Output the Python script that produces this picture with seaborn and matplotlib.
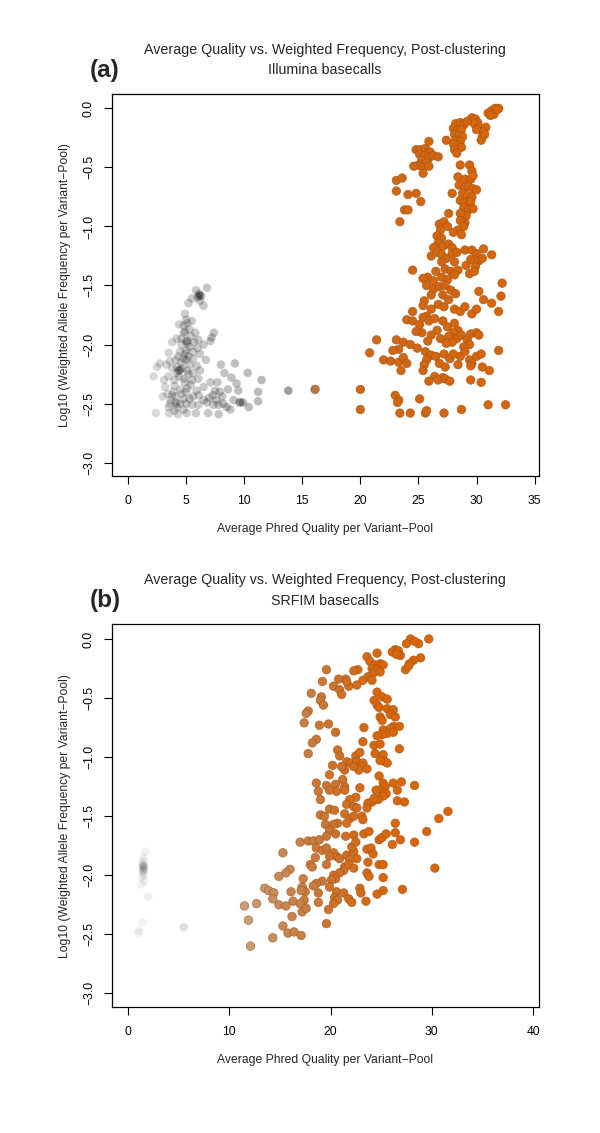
import numpy as np
import pandas as pd
import matplotlib
matplotlib.use("Agg")
import matplotlib.pyplot as plt
from matplotlib.colors import LinearSegmentedColormap
import seaborn as sns

sns.set_style("ticks")
plt.rcParams['font.family'] = ['Liberation Sans', 'DejaVu Sans']

## data

# (a) Illumina basecalls: average quality / log10 weighted frequency
illumina_qual = [
    31.0, 31.3, 31.6, 31.9, 31.5, 31.2, 31.8,
    29.6, 29.9, 30.1, 29.8, 30.2, 30.0,
    30.8, 30.6, 30.5, 30.4, 30.7,
    28.2, 28.6, 28.9, 28.0, 28.3, 28.7, 28.1, 28.5, 28.8, 28.2, 28.6, 28.4, 28.0, 28.7, 29.2,
    27.4, 25.9, 28.1, 28.3,
    24.8, 25.2, 25.6, 26.0, 25.1, 25.5, 25.9, 26.3, 26.7, 25.3, 25.7, 25.0, 24.6, 25.4, 25.9, 25.4,
    23.1, 23.6, 23.1, 24.1, 24.8, 25.2, 23.8, 24.1, 23.4,
    28.6, 29.4, 29.6, 28.4, 29.0, 29.5, 29.7, 28.5, 29.0, 29.3, 29.7, 30.0, 28.8, 29.2, 29.6,
    27.9, 28.6, 29.0, 29.5, 28.9, 29.3, 29.7, 29.1, 28.6, 29.0,
    27.6, 26.8, 27.2, 27.5, 28.6, 28.9, 28.4, 28.0, 28.7, 26.9, 26.6, 27.0, 26.7, 27.1, 27.6, 27.9,
    26.3, 26.1, 26.6, 27.0, 27.4, 27.9, 28.3, 28.1, 29.0, 29.6, 30.0, 30.6, 31.3, 29.5, 30.2, 30.5,
    29.1, 29.9, 27.0, 26.5, 27.3, 27.8, 28.4, 29.4, 29.8, 24.5, 25.8, 26.3, 27.0, 27.5, 28.1,
    25.4, 25.7, 26.3, 26.8, 27.3, 27.8, 27.1, 27.6, 28.2, 26.1, 25.5, 25.4, 26.1, 26.7,
    27.2, 28.1, 28.6, 29.0, 30.2, 32.2, 32.1, 30.6, 31.3, 31.9, 29.6, 30.0, 24.5, 25.7,
    24.0, 24.5, 25.1, 25.4, 25.9, 26.4, 27.1, 27.5, 28.1, 28.4, 28.0, 27.6, 28.3, 28.7, 27.9, 26.6, 26.1,
    25.3, 24.8, 25.8, 26.9, 27.4, 29.2, 29.5, 30.0, 30.2, 29.4, 28.9, 21.4, 23.1, 23.7, 24.3, 24.9, 23.3,
    20.8, 22.8, 25.6, 26.1, 25.7, 26.5, 27.2, 27.7, 28.0, 28.6, 29.0, 29.4, 29.6, 30.0, 30.4, 31.9, 22.0, 22.6, 23.3,
    23.7, 24.0, 25.5, 26.8, 27.3, 28.4, 29.5, 30.5, 31.1, 23.5, 25.4, 26.4, 27.1, 25.9, 26.7, 27.3, 27.7, 29.5, 30.4,
    23.0, 23.3, 23.2, 25.1, 20.0, 20.0, 23.4, 24.3, 25.6, 25.7, 27.2, 28.7, 31.0, 32.5, 16.1, 13.8,
    6.8, 5.85, 6.1, 6.3, 6.0, 5.5, 5.2, 6.2, 6.5,
    4.9, 5.0, 5.1, 4.4, 5.5, 4.8, 5.3, 4.9, 5.8, 7.4, 7.2, 7.1, 4.2, 3.8,
    5.1, 6.05, 6.5, 4.6, 5.3, 5.0, 4.5, 3.5, 5.6, 6.2, 6.7, 5.2, 4.8, 4.1,
    2.75, 2.5, 3.3, 3.8, 4.4, 4.2, 5.1, 5.6, 6.2, 2.2, 3.5, 4.8,
    5.5, 6.05, 8.0, 9.2, 8.3, 10.3, 11.5, 7.1, 7.7, 8.9, 9.35,
    3.2, 4.0, 4.5, 5.1, 5.9, 7.5, 7.9, 8.6, 9.5, 11.2, 3.0,
    3.8, 4.8, 5.6, 6.5, 7.3, 8.1, 9.1, 9.6, 9.9, 11.2,
    4.1, 5.0, 5.5, 6.05, 7.35, 7.8, 8.5, 3.5, 4.2, 10.4,
    2.4, 3.55, 4.3, 5.05, 5.85, 6.9, 7.8, 8.8, 6.1, 6.8,
    4.3, 4.6, 5.0, 5.3, 4.7, 5.2, 4.4, 4.9, 5.4, 4.0, 3.9, 4.6, 5.0, 4.1, 3.7, 4.5, 4.0, 3.6,
    5.3, 4.8, 4.2, 3.6, 4.9, 5.6, 5.9, 4.6, 5.4, 4.8, 5.7, 6.0, 6.5, 7.0, 7.6, 8.2, 3.4, 3.1,
    4.4, 4.5, 4.2, 5.0, 5.1, 6.2, 6.1, 9.7,
]
illumina_freq = [
    -0.04, -0.02, 0.0, 0.0, -0.05, -0.06, -0.01,
    -0.08, -0.09, -0.12, -0.13, -0.16, -0.18,
    -0.16, -0.20, -0.24, -0.27, -0.22,
    -0.13, -0.12, -0.14, -0.17, -0.19, -0.18, -0.22, -0.23, -0.24, -0.27, -0.28, -0.31, -0.30, -0.33, -0.11,
    -0.27, -0.28, -0.35, -0.38,
    -0.35, -0.35, -0.34, -0.37, -0.39, -0.40, -0.42, -0.40, -0.41, -0.44, -0.46, -0.48, -0.49, -0.50, -0.49, -0.55,
    -0.61, -0.59, -0.70, -0.73, -0.72, -0.79, -0.86, -0.86, -0.96,
    -0.48, -0.48, -0.53, -0.58, -0.60, -0.60, -0.57, -0.65, -0.67, -0.66, -0.68, -0.69, -0.72, -0.74, -0.75,
    -0.72, -0.78, -0.80, -0.79, -0.84, -0.86, -0.85, -0.91, -0.89, -0.97,
    -0.89, -0.98, -0.96, -1.00, -0.95, -1.00, -1.03, -1.05, -1.07, -1.03, -1.08, -1.10, -1.14, -1.17, -1.15, -1.18,
    -1.18, -1.25, -1.22, -1.24, -1.27, -1.23, -1.22, -1.30, -1.20, -1.20, -1.23, -1.19, -1.24, -1.28, -1.29, -1.27,
    -1.33, -1.34, -1.30, -1.38, -1.36, -1.38, -1.37, -1.40, -1.38, -1.37, -1.43, -1.46, -1.43, -1.45, -1.41,
    -1.44, -1.50, -1.53, -1.51, -1.50, -1.54, -1.58, -1.62, -1.57, -1.58, -1.63, -1.67, -1.70, -1.66,
    -1.68, -1.70, -1.72, -1.68, -1.55, -1.48, -1.59, -1.62, -1.65, -1.72, -1.74, -1.70, -1.72, -1.76,
    -1.79, -1.80, -1.83, -1.77, -1.80, -1.78, -1.80, -1.85, -1.82, -1.88, -1.90, -1.93, -1.95, -1.92, -1.98, -1.88, -1.92,
    -1.90, -1.89, -1.97, -1.95, -1.99, -1.96, -1.91, -1.90, -1.92, -2.00, -2.02, -1.96, -1.96, -1.98, -2.00, -2.03, -2.04,
    -2.07, -2.05, -2.06, -2.09, -2.13, -2.10, -2.08, -2.12, -2.08, -2.10, -2.06, -2.13, -2.16, -2.10, -2.08, -2.05, -2.13, -2.14, -2.15,
    -2.11, -2.16, -2.17, -2.16, -2.19, -2.17, -2.18, -2.19, -2.22, -2.22, -2.22, -2.27, -2.28, -2.31, -2.30, -2.29, -2.31, -2.30, -2.32,
    -2.43, -2.47, -2.49, -2.46, -2.38, -2.55, -2.58, -2.58, -2.58, -2.56, -2.58, -2.55, -2.51, -2.51, -2.38, -2.39,
    -1.52, -1.54, -1.57, -1.59, -1.60, -1.61, -1.65, -1.63, -1.67,
    -1.74, -1.79, -1.82, -1.83, -1.80, -1.84, -1.87, -1.89, -1.90, -1.90, -1.94, -1.97, -1.95, -1.98,
    -1.97, -1.96, -2.00, -2.00, -2.02, -2.05, -2.06, -2.07, -2.06, -2.08, -2.13, -2.10, -2.12, -2.13,
    -2.16, -2.19, -2.17, -2.20, -2.22, -2.24, -2.22, -2.24, -2.22, -2.27, -2.27, -2.29,
    -2.30, -2.29, -2.17, -2.16, -2.24, -2.24, -2.30, -2.32, -2.32, -2.28, -2.33,
    -2.36, -2.35, -2.38, -2.37, -2.39, -2.39, -2.40, -2.38, -2.39, -2.40, -2.44,
    -2.43, -2.46, -2.44, -2.47, -2.43, -2.44, -2.47, -2.49, -2.49, -2.48,
    -2.49, -2.50, -2.51, -2.51, -2.51, -2.51, -2.53, -2.53, -2.53, -2.53,
    -2.58, -2.58, -2.59, -2.58, -2.58, -2.58, -2.59, -2.55, -2.43, -2.49,
    -2.10, -2.15, -2.13, -2.17, -2.20, -2.25, -2.27, -2.32, -2.34, -2.30, -2.40, -2.42, -2.40, -2.44, -2.47, -2.50, -2.56, -2.50,
    -2.46, -2.55, -2.19, -2.14, -2.08, -2.12, -2.18, -1.95, -1.93, -1.90, -1.98, -2.03, -2.36, -2.45, -2.47, -2.50, -2.42, -2.30,
    -2.22, -2.21, -2.50, -1.97, -1.99, -1.58, -1.59, -2.49,
]

# (b) SRFIM basecalls
srfim_qual = [
    1.7, 1.5, 1.6, 1.4, 1.5, 1.6, 1.5, 1.6, 1.4, 1.5, 1.55, 1.4, 1.6, 1.3, 2.0, 1.4, 1.1, 1.0, 5.5, 1.5,
    1.6, 1.5, 1.45, 1.55,
    29.7, 28.7, 27.9, 27.5, 28.3, 28.9, 28.2, 27.8, 27.4, 27.7, 26.4, 26.7, 26.1, 26.9, 26.5,
    23.6, 24.6, 23.9, 24.4, 24.9, 25.2, 24.1, 24.6, 24.2, 23.7, 24.1, 23.2, 24.9, 22.7, 22.3, 21.5,
    20.8, 20.3, 20.9, 21.8, 21.6, 21.1, 22.6,
    19.6, 19.2, 18.1, 19.1, 19.0, 19.3, 17.8, 17.6, 17.4, 18.9, 19.8, 20.5, 18.6, 18.2, 17.8,
    24.6, 25.1, 25.6, 24.3, 24.6, 24.8, 25.6, 26.2, 25.9, 24.9, 25.1, 26.4, 26.2, 26.8, 25.9,
    25.2, 25.6, 25.1, 24.6, 26.2, 23.3, 23.2, 24.3, 24.9, 26.8, 24.4, 25.2, 25.4, 25.6, 24.9,
    20.7, 20.9, 21.6, 22.0, 22.5, 22.9, 22.6, 23.2, 23.1, 22.8, 23.6, 22.3, 21.4, 21.1, 20.2, 19.9, 24.8, 21.2,
    18.6, 19.6, 20.5, 21.4, 20.6, 19.9, 18.8, 21.4, 22.9, 25.2, 25.4, 24.8, 24.5, 26.2, 26.6, 27.0, 28.3,
    25.5, 25.2, 24.7, 24.1, 23.7, 24.3, 22.5, 21.9, 21.6, 22.3, 22.6, 23.6, 26.6, 27.3, 19.0, 31.6, 30.7,
    19.9, 19.0, 19.4, 20.4, 21.4, 21.9, 22.3, 23.1, 23.2, 21.6, 20.7, 20.3, 19.5, 19.9, 19.6, 20.5, 21.5,
    22.3, 23.3, 23.8, 24.8, 25.1, 25.5, 26.4, 26.4, 26.9, 26.1, 28.3, 29.5, 17.0, 17.8, 18.3, 18.9,
    18.6, 19.2, 19.6, 20.3, 20.6, 19.9, 20.9, 21.6, 22.3, 22.6, 21.9, 23.6, 24.0, 24.2, 22.1, 22.5, 18.5, 19.6, 18.0, 18.2,
    21.4, 21.8, 22.3, 21.3, 20.9, 20.3, 20.5, 20.1, 23.7, 23.6, 24.8, 25.2, 25.2, 23.8, 30.3, 15.3, 16.0, 15.6, 14.9, 17.3,
    19.2, 18.6, 18.3, 17.2, 17.5, 17.1, 16.1, 18.8, 19.9, 20.6, 21.3, 21.8, 22.1, 20.4, 20.7, 20.3, 19.8, 22.9, 23.0, 23.5,
    24.6, 25.2, 27.1, 13.5, 13.9, 14.4, 14.3, 14.9, 16.3, 15.6, 17.4, 17.0, 17.2, 17.6, 18.8, 12.7, 11.5, 11.9, 16.2, 15.3,
    15.8, 16.4, 17.1, 14.3, 12.1, 19.6,
]
srfim_freq = [
    -1.80, -1.85, -1.88, -1.90, -1.92, -1.93, -1.94, -1.95, -1.96, -1.98, -2.00, -2.02, -2.05, -2.08, -2.18, -2.40, -2.47, -2.49, -2.44, -1.91,
    -1.92, -1.95, -1.93, -1.97,
    0.0, -0.04, 0.0, -0.04, -0.02, -0.16, -0.18, -0.21, -0.26, -0.23, -0.09, -0.10, -0.11, -0.14, -0.13,
    -0.15, -0.12, -0.19, -0.22, -0.21, -0.22, -0.25, -0.26, -0.29, -0.32, -0.35, -0.35, -0.28, -0.26, -0.27, -0.34,
    -0.34, -0.40, -0.43, -0.40, -0.36, -0.47, -0.39,
    -0.26, -0.36, -0.46, -0.49, -0.52, -0.56, -0.61, -0.63, -0.71, -0.73, -0.72, -0.79, -0.85, -0.88, -0.97,
    -0.45, -0.49, -0.51, -0.52, -0.56, -0.58, -0.59, -0.60, -0.64, -0.66, -0.69, -0.66, -0.74, -0.74, -0.76,
    -0.77, -0.80, -0.81, -0.82, -0.79, -0.75, -0.87, -0.90, -0.89, -0.93, -0.97, -0.98, -1.04, -1.05, -1.03,
    -0.94, -0.99, -1.04, -1.05, -0.99, -0.96, -1.04, -1.05, -1.08, -1.11, -1.10, -1.08, -1.11, -1.08, -1.07, -1.15, -1.16, -1.19,
    -1.22, -1.24, -1.23, -1.25, -1.29, -1.28, -1.29, -1.28, -1.26, -1.22, -1.25, -1.28, -1.28, -1.22, -1.28, -1.21, -1.24,
    -1.31, -1.33, -1.36, -1.38, -1.39, -1.35, -1.34, -1.36, -1.40, -1.42, -1.43, -1.43, -1.37, -1.38, -1.36, -1.46, -1.52,
    -1.44, -1.49, -1.50, -1.45, -1.48, -1.52, -1.50, -1.50, -1.53, -1.56, -1.56, -1.57, -1.57, -1.62, -1.67, -1.65, -1.67,
    -1.66, -1.65, -1.63, -1.70, -1.68, -1.65, -1.56, -1.64, -1.70, -1.74, -1.72, -1.63, -1.72, -1.71, -1.71, -1.70,
    -1.77, -1.79, -1.77, -1.81, -1.84, -1.84, -1.86, -1.83, -1.80, -1.86, -1.87, -1.78, -1.77, -1.82, -1.76, -1.72, -1.85, -1.91, -1.91, -1.93,
    -1.93, -1.91, -1.94, -1.96, -1.98, -2.00, -2.03, -2.04, -1.89, -1.98, -1.91, -1.91, -2.02, -2.01, -1.94, -1.81, -1.95, -1.98, -2.01, -2.03,
    -2.05, -2.07, -2.09, -2.10, -2.14, -2.13, -2.14, -2.15, -2.10, -2.14, -2.15, -2.20, -2.23, -2.19, -2.21, -2.24, -2.29, -2.11, -2.15, -2.22,
    -2.16, -2.13, -2.12, -2.11, -2.13, -2.15, -2.20, -2.25, -2.22, -2.26, -2.21, -2.24, -2.31, -2.28, -2.23, -2.24, -2.26, -2.38, -2.35, -2.43,
    -2.49, -2.48, -2.51, -2.53, -2.60, -2.41,
]

x_ticks_a = [0, 5, 10, 15, 20, 25, 30, 35]
x_ticks_b = [0, 10, 20, 30, 40]
y_ticks = [0.0, -0.5, -1.0, -1.5, -2.0, -2.5, -3.0]

title_line = "Average Quality vs. Weighted Frequency, Post-clustering"
subtitles = ["Illumina basecalls", "SRFIM basecalls"]
panel_tags = ["(a)", "(b)"]
x_label = "Average Phred Quality per Variant\u2212Pool"
y_label = "Log10 (Weighted Allele Frequency per Variant\u2212Pool)"

# colour ramp by quality: faint grey -> tan -> orange
ramp_a = [(0, (0, 0, 0, 0.10)), (5, (0, 0, 0, 0.20)), (11.5, (0, 0, 0, 0.27)),
          (13.8, (0, 0, 0, 0.38)), (16.1, (0.72, 0.46, 0.30, 1.0)),
          (20, (0.80, 0.41, 0.10, 1.0)), (35, (0.86, 0.39, 0.02, 1.0))]
ramp_b = [(0, (0, 0, 0, 0.03)), (5.5, (0, 0, 0, 0.13)), (11.5, (0.79, 0.63, 0.49, 1.0)),
          (15, (0.77, 0.54, 0.36, 1.0)), (20, (0.80, 0.45, 0.18, 1.0)),
          (25, (0.85, 0.40, 0.04, 1.0)), (40, (0.86, 0.39, 0.02, 1.0))]


def make_cmap(nodes, qmax):
    return LinearSegmentedColormap.from_list("qual", [(q / qmax, c) for q, c in nodes])


def draw_panel(ax, qual, freq, ramp, qmax, split, xlim, xticks):
    df = pd.DataFrame({'qual': qual, 'freq': freq})
    cmap = make_cmap(ramp, qmax)
    lo = df[df.qual < split]
    hi = df[df.qual >= split]
    sns.scatterplot(data=lo, x='qual', y='freq', hue='qual', palette=cmap,
                    hue_norm=(0, qmax), s=38, edgecolor='none', legend=False, ax=ax)
    sns.scatterplot(data=hi, x='qual', y='freq', hue='qual', palette=cmap,
                    hue_norm=(0, qmax), s=38, edgecolor=(0.62, 0.32, 0.08, 0.75),
                    linewidth=0.5, legend=False, ax=ax)
    ax.set_xlim(*xlim)
    ax.set_ylim(-3.113, 0.124)
    ax.set_xticks(xticks)
    ax.set_xticklabels([str(t) for t in xticks])
    ax.set_yticks(y_ticks)
    ax.set_yticklabels([f"{v:.1f}".replace("-", "\u2212") for v in y_ticks],
                       rotation=90, va='center')
    ax.set_xlabel('')
    ax.set_ylabel('')
    for sp in ax.spines.values():
        sp.set_visible(True)
        sp.set_linewidth(0.9)
        sp.set_color('black')
    ax.tick_params(axis='both', direction='out', length=6, width=0.8,
                   labelsize=8.7, colors='black')
    ax.tick_params(axis='x', pad=8)
    ax.tick_params(axis='y', pad=6.5)


fig = plt.figure(figsize=(6, 11.33), dpi=100)
H = 1133.0
W = 600.0

ax_a = fig.add_axes([112.3 / W, 1 - 476.0 / H, 426.4 / W, 382.3 / H])
draw_panel(ax_a, illumina_qual, illumina_freq, ramp_a, 35, 15,
           (-1.35, 35.35), x_ticks_a)

ax_b = fig.add_axes([112.3 / W, 1 - 1006.7 / H, 426.4 / W, 382.4 / H])
draw_panel(ax_b, srfim_qual, srfim_freq, ramp_b, 40, 10,
           (-1.55, 40.56), x_ticks_b)

# titles, panel tags, axis labels
for i, off in enumerate([0.0, 530.6]):
    fig.text(325 / W, 1 - (49.7 + off) / H, title_line, ha='center', va='center', fontsize=10.3)
    fig.text(325 / W, 1 - (70.0 + off) / H, subtitles[i], ha='center', va='center', fontsize=10.3)
    fig.text(105 / W, 1 - (70.0 + off) / H, panel_tags[i], ha='center', va='center',
             fontsize=17.5, fontweight='bold')
    fig.text(325 / W, 1 - (529.0 + off) / H, x_label, ha='center', va='center', fontsize=8.7)
    fig.text(65 / W, 1 - (285.0 + off) / H, y_label, ha='center', va='center',
             rotation=90, fontsize=8.7)

fig.savefig("out.png", dpi=100)
